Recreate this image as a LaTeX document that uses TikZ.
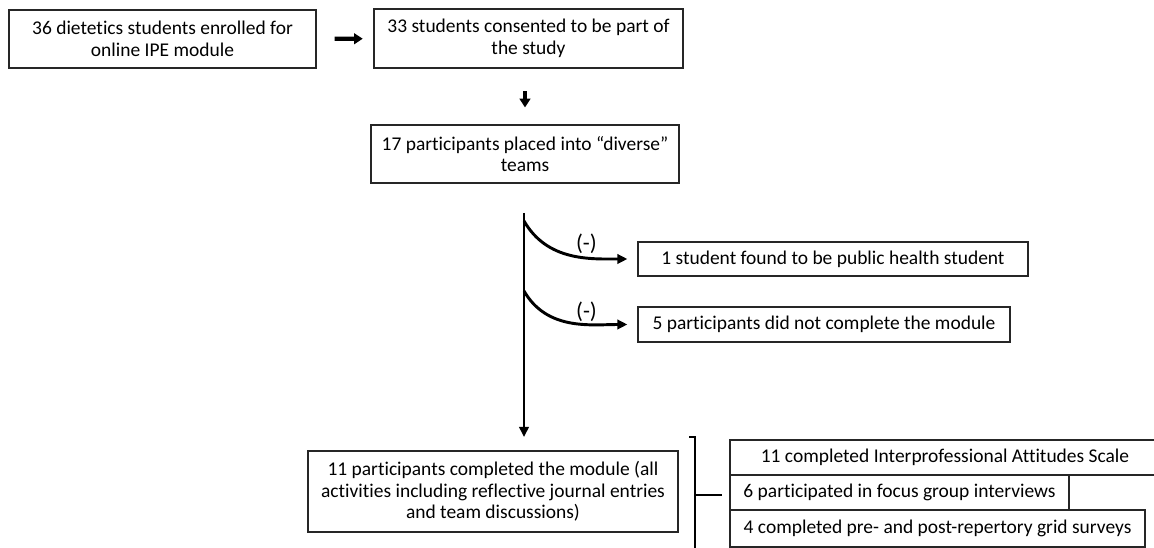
\documentclass[tikz,border=0pt]{standalone}
\usepackage{fontspec}
\setmainfont{Carlito}[Ligatures=CommonOff]
\usetikzlibrary{arrows.meta}

\tikzset{
  box/.style={draw=black!85, line width=0.9pt, align=center, inner sep=0pt,
    font=\fontsize{14.6}{16.3}\selectfont},
  fat/.style={line width=3.2pt, -{Triangle[length=6.5pt,width=8pt]}},
  flow/.style={line width=2.2pt, -{Triangle[length=7.5pt,width=7pt]}},
  minus/.style={font=\fontsize{17}{19}\selectfont, inner sep=1pt},
  brace/.style={line width=2.2pt}
}

\begin{document}
\begin{tikzpicture}[x=0.75pt, y=-0.75pt]
    \useasboundingbox (0,0) rectangle (1154,548);
    \node [box, minimum width=230.25pt, minimum height=43.5pt] (a) at (162.5, 39.0) {36 dietetics students enrolled for\\online IPE module};
    \node [box, minimum width=231.75pt, minimum height=44.25pt] (b) at (528.5, 38.5) {33 students consented to be part of\\the study};
    \node [box, minimum width=231.00pt, minimum height=43.5pt] (c) at (525.0, 154.0) {17 participants placed into “diverse”\\teams};
    \node [box, minimum width=292.50pt, minimum height=25.5pt] (d) at (833.0, 259.0) {1 student found to be public health student};
    \node [box, minimum width=279.00pt, minimum height=26.25pt] (e) at (824.0, 324.5) {5 participants did not complete the module};
    \node [box, minimum width=277.50pt, minimum height=60.75pt] (f) at (493.0, 491.5) {11 participants completed the module (all\\activities including reflective journal entries\\and team discussions)};
    \node [box, minimum width=322.50pt, minimum height=26.25pt] (g1) at (945.0, 457.5) {11 completed Interprofessional Attitudes Scale};
    \node [box, minimum width=254.25pt, minimum height=26.25pt] (g2) at (899.5, 492.5) {6 participated in focus group interviews};
    \node [box, minimum width=311.25pt, minimum height=27.75pt] (g3) at (937.5, 528.5) {4 completed pre- and post-repertory grid surveys};
    \coordinate (top) at (524, 213);
    \coordinate (tip) at (524, 437);
    \coordinate (s1) at (524, 221);
    \coordinate (s2) at (524, 291);
    \coordinate (hook) at (689, 437);
    \coordinate (brtop) at (695, 437);
    \coordinate (brbot) at (695, 552);
    \coordinate (brmid) at (695, 495);
    \coordinate (tick) at (722, 495);
    \draw [fat, shorten <=13.5pt, shorten >=8pt] (a) -- (b);
    \draw [fat, shorten <=17pt, shorten >=12.75pt] (b.south -| c.north) -- (c.north);
    \draw [flow] (top) -- (tip);
    \draw [flow, shorten >=7.5pt] (s1) to [out=-60, in=180] node [minus, pos=0.5, above right, xshift=1pt, yshift=-1pt] {(-)} (d);
    \draw [flow, shorten >=7.5pt] (s2) to [out=-60, in=180] node [minus, pos=0.5, above right, xshift=1pt, yshift=-1pt] {(-)} (e);
    \draw [brace] (hook) -- (brtop) -- (brbot);
    \draw [brace] (brmid) -- (tick);
\end{tikzpicture}
\end{document}
